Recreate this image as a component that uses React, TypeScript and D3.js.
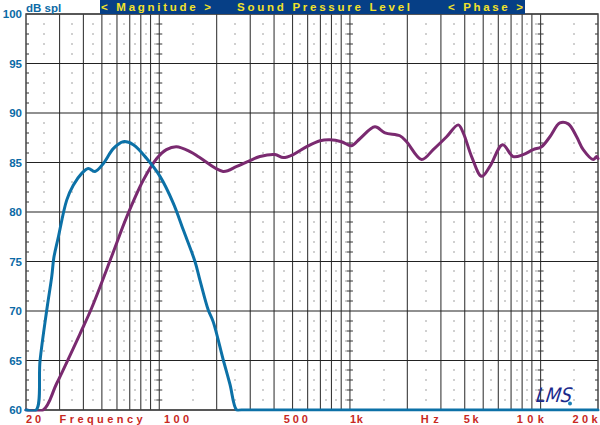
import React from "react";
import * as d3 from "d3";

const blueFreq = [20, 22.6, 23.7, 25.7, 27.3, 28.0, 29.5, 32.7, 35.4, 39.2, 42.4, 46.0, 50.9, 57.4, 64.7, 73.1, 85.9, 100.9, 118.4, 133.6, 153.9, 163.5, 180.7, 191.9, 216.6, 234.8, 254.6, 270, 20000];
const blueDb = [60, 60, 65, 70.1, 73.5, 75.4, 77.4, 81.2, 82.7, 83.9, 84.4, 84.1, 84.9, 86.4, 87.1, 86.8, 85.4, 83.6, 80.9, 78.2, 75.0, 73.1, 70.1, 68.9, 65.05, 62.6, 60, 60, 60];

const purpleFreq = [20, 24.6, 29.0, 38.4, 44.2, 56.5, 67.5, 82.4, 97, 109, 123, 145, 163, 216, 255, 299, 337, 404, 447, 504, 593, 697, 785, 904, 1020, 1127, 1352, 1527, 1828, 1982, 2377, 2734, 3214, 3698, 3928, 4346, 4908, 5420, 6320, 7180, 8100, 9140, 10120, 11190, 12620, 13960, 15450, 16730, 18880, 19680, 20000];
const purpleDb = [60, 60, 62.7, 67.7, 70.3, 75.6, 79.5, 83.2, 85.4, 86.3, 86.6, 86.1, 85.5, 84.1, 84.6, 85.2, 85.6, 85.8, 85.5, 85.8, 86.6, 87.2, 87.3, 87.1, 86.7, 87.4, 88.6, 88.0, 87.7, 87.1, 85.3, 86.3, 87.6, 88.8, 88.0, 85.6, 83.6, 84.6, 86.8, 85.6, 85.8, 86.3, 86.6, 87.6, 89.0, 88.9, 87.6, 86.3, 85.3, 85.6, 85.4];

const yTicks = [100, 95, 90, 85, 80, 75, 70, 65, 60];
const xLabels = ["20", "Frequency", "100", "500", "1k", "Hz", "5k", "10k", "20k"];
const xLabelFreq = [20, 30, 106, 450, 1000, 2350, 3950, 7500, 14700];
const xLabelWidth = [15, 83, 25, 24, 13, 18, 15, 27, 25];
const bannerTexts = ["< Magnitude >", "Sound Pressure Level", "< Phase >"];
const bannerX = [101, 237, 448];
const bannerWidth = [110, 173, 75];

const W = 600, H = 425;
const x = d3.scaleLog().domain([20, 20000]).range([26, 598]);
const y = d3.scaleLinear().domain([60, 100]).range([410, 14]);

const majorFreqs: number[] = [];
const dotFreqs: number[] = [];
[10, 100, 1000, 10000].forEach((dec) => {
  for (let k = 1; k <= 9; k++) {
    const f = k * dec;
    if (f > 20 && f < 20000) majorFreqs.push(f);
    const m = (k + 0.5) * dec;
    if (m > 20 && m < 20000) dotFreqs.push(m);
  }
});
const dbRows = d3.range(61, 100).filter((d) => d % 5 !== 0);

export default function App() {
  const line = d3
    .line<[number, number]>()
    .x((d) => x(d[0]))
    .y((d) => y(d[1]))
    .curve(d3.curveCatmullRom.alpha(0.5));
  const blue = blueFreq.map((f, i) => [f, blueDb[i]] as [number, number]);
  const purple = purpleFreq.map((f, i) => [f, purpleDb[i]] as [number, number]);
  const font = "'Liberation Sans', Arial, Helvetica, sans-serif";
  const decades = [100, 1000, 10000];

  return (
    <svg width={W} height={H} style={{ position: "absolute", left: 0, top: 0, background: "#fff" }} fontFamily={font}>
      <defs>
        <clipPath id="plotclip">
          <rect x={20} y={10} width={582} height={401.6} />
        </clipPath>
      </defs>
      <rect x={0} y={0} width={W} height={H} fill="#fff" />
      {/* dots */}
      {dotFreqs.map((f) =>
        dbRows.map((d) => (
          <rect key={`d${f}-${d}`} x={Math.round(x(f)) - 0.5} y={Math.round(y(d)) - 0.5} width={1} height={1} fill="#444" />
        ))
      )}
      {/* decade ticks */}
      {decades.map((f) =>
        dbRows.map((d) => (
          <line key={`t${f}-${d}`} x1={x(f) - 3} x2={x(f) + 3} y1={Math.round(y(d))} y2={Math.round(y(d))} stroke="#333" strokeWidth={1} />
        ))
      )}
      {dbRows.map((d) => (
        <g key={`e${d}`}>
          <line x1={26} x2={29} y1={Math.round(y(d))} y2={Math.round(y(d))} stroke="#333" />
          <line x1={595} x2={598} y1={Math.round(y(d))} y2={Math.round(y(d))} stroke="#333" />
        </g>
      ))}
      {/* vertical grid */}
      {majorFreqs.map((f) => (
        <line key={`v${f}`} x1={x(f)} x2={x(f)} y1={14} y2={410} stroke="#3a3a3a" strokeWidth={1.1} />
      ))}
      {/* horizontal grid */}
      {yTicks.map((d) => (
        <line key={`h${d}`} x1={26} x2={598} y1={y(d)} y2={y(d)} stroke="#222" strokeWidth={1.1} />
      ))}
      <rect x={26} y={14} width={572} height={396} fill="none" stroke="#444" strokeWidth={1.5} />

      {/* banner */}
      <rect x={100} y={0} width={425} height={14} fill="#063f86" />
      {bannerTexts.map((t, i) => (
        <text key={t} x={bannerX[i]} y={11} fill="#f2e22a" fontSize={11.5} fontWeight="bold" textLength={bannerWidth[i]} lengthAdjust="spacing">
          {t}
        </text>
      ))}
      <text x={26} y={11.5} fill="#0b6aa6" fontSize={11.5} fontWeight="bold">dB spl</text>

      {/* y labels */}
      {yTicks.map((d) => (
        <text key={`yl${d}`} x={22} y={y(d) + 4} textAnchor="end" fill="#0b6aa6" fontSize={11.5} fontWeight="bold">
          {d}
        </text>
      ))}
      {/* x labels */}
      {xLabels.map((t, i) => (
        <text key={`xl${t}`} x={x(xLabelFreq[i])} y={422.5} fill="#c8281e" fontSize={11} fontWeight="bold" textLength={xLabelWidth[i]} lengthAdjust="spacing">
          {t}
        </text>
      ))}

      {/* curves */}
      <g clipPath="url(#plotclip)">
        <path d={line(purple) || ""} fill="none" stroke="#7a2a70" strokeWidth={3} strokeLinejoin="round" strokeLinecap="round" />
        <path d={line(blue) || ""} fill="none" stroke="#0c71a7" strokeWidth={3} strokeLinejoin="round" strokeLinecap="round" />
      </g>

      {/* logo */}
      <text x={535} y={402} fill="#1b2a8c" fontSize={20} fontStyle="italic" fontFamily="'DejaVu Sans', sans-serif" transform="skewX(-8) translate(57,0)" textLength={36} lengthAdjust="spacingAndGlyphs">
        LMS
      </text>
      <circle cx={570} cy={403.5} r={2} fill="#1c7fb5" />
    </svg>
  );
}
